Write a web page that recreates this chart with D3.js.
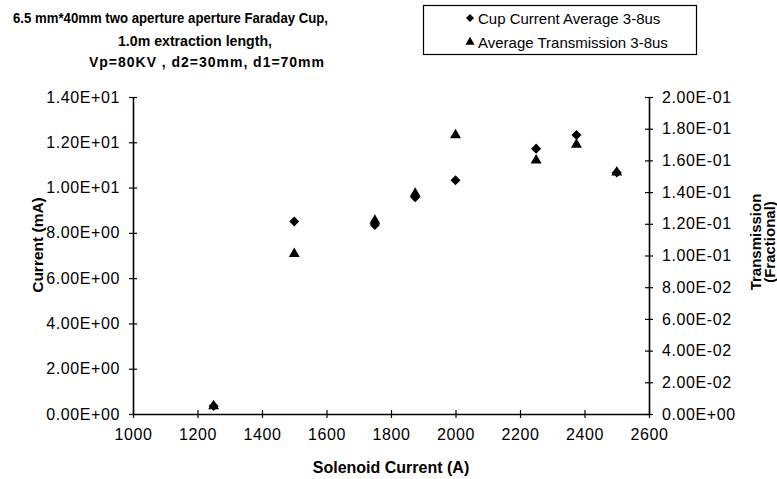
<!DOCTYPE html>
<html>
<head>
<meta charset="utf-8">
<script src="https://cdn.jsdelivr.net/npm/d3@7"></script>
<style>
  html, body { margin: 0; padding: 0; background: #fff; }
  svg { display: block; font-family: "Liberation Sans", Arial, Helvetica, sans-serif; }
</style>
</head>
<body>
<svg id="chart" width="777" height="479"></svg>
<script>
// Solenoid current settings (A)
const solenoid = [1250, 1500, 1750, 1875, 2000, 2250, 2375, 2500];
// Cup current, averaged over 3-8 us (mA)
const cupCurrent = [0.35, 8.5, 8.35, 9.57, 10.32, 11.72, 12.32, 10.67];
// Transmission, averaged over 3-8 us (fraction)
const transmission = [0.005, 0.101, 0.122, 0.139, 0.176, 0.160, 0.170, 0.1525];

const xTicks = [1000, 1200, 1400, 1600, 1800, 2000, 2200, 2400, 2600];
const leftTicks = [0, 2, 4, 6, 8, 10, 12, 14];
const rightTicks = [0, 0.02, 0.04, 0.06, 0.08, 0.10, 0.12, 0.14, 0.16, 0.18, 0.20];

const titleLines = [
  "6.5 mm*40mm two aperture aperture Faraday Cup,",
  "1.0m extraction length,",
  "Vp=80KV , d2=30mm, d1=70mm"
];
const legendLabels = ["Cup Current Average 3-8us", "Average Transmission 3-8us"];

const svg = d3.select("#chart");

const x = d3.scaleLinear().domain([1000, 2600]).range([133, 649]);
const yL = d3.scaleLinear().domain([0, 14]).range([414, 97]);
const yR = d3.scaleLinear().domain([0, 0.2]).range([414, 97]);

// Spreadsheet-style scientific notation: 1.40E+01
function sci(v) {
  const s = v.toExponential(2);
  const [m, e] = s.split("e");
  const sign = e[0] === "-" ? "-" : "+";
  const n = Math.abs(parseInt(e, 10));
  return m + "E" + sign + (n < 10 ? "0" + n : "" + n);
}

// Left axis
const gL = svg.append("g").attr("transform", "translate(133,0)")
  .call(d3.axisLeft(yL).tickValues(leftTicks).tickFormat(sci).tickSizeInner(4).tickSizeOuter(0).tickPadding(9));
// Right axis
const gR = svg.append("g").attr("transform", "translate(649,0)")
  .call(d3.axisRight(yR).tickValues(rightTicks).tickFormat(sci).tickSizeInner(4).tickSizeOuter(0).tickPadding(9));
// Bottom axis
const gB = svg.append("g").attr("transform", "translate(0,414)")
  .call(d3.axisBottom(x).tickValues(xTicks).tickFormat(d3.format("d")).tickSizeInner(4).tickSizeOuter(0).tickPadding(11));

// Ticks cross the axis line on both sides
gL.selectAll(".tick line").attr("x1", 4);
gR.selectAll(".tick line").attr("x1", -4);
gB.selectAll(".tick line").attr("y1", -4);

[gL, gR, gB].forEach(g => {
  g.select(".domain").attr("stroke", "#000").attr("stroke-width", 1.6);
  g.selectAll(".tick line").attr("stroke", "#000").attr("stroke-width", 1.2);
  g.selectAll(".tick text").attr("fill", "#000")
    .style("font-family", "'Liberation Sans', Arial, sans-serif")
    .style("font-size", "16px")
    .style("letter-spacing", "0.6px");
});

// Markers
const diamond = d3.symbol().type(d3.symbolDiamond2).size(64);
const triangle = d3.symbol().type(d3.symbolTriangle).size(52);

svg.append("g").selectAll("path")
  .data(solenoid.map((s, i) => [s, cupCurrent[i]]))
  .join("path")
  .attr("d", diamond)
  .attr("transform", d => `translate(${x(d[0])},${yL(d[1])})`)
  .attr("fill", "#000");

svg.append("g").selectAll("path")
  .data(solenoid.map((s, i) => [s, transmission[i]]))
  .join("path")
  .attr("d", triangle)
  .attr("transform", d => `translate(${x(d[0])},${yR(d[1])})`)
  .attr("fill", "#000");

// Title, three lines
const titleX = [13, 118, 89];
const titleY = [18, 41, 62];
const titleW = [315, 154, 235];
const titleAdjust = ["spacingAndGlyphs", "spacingAndGlyphs", "spacing"];
svg.append("g").selectAll("text")
  .data(titleLines)
  .join("text")
  .attr("x", (d, i) => titleX[i])
  .attr("y", (d, i) => titleY[i])
  .attr("dominant-baseline", "central")
  .attr("textLength", (d, i) => titleW[i])
  .attr("lengthAdjust", (d, i) => titleAdjust[i])
  .style("font-size", "14px")
  .style("font-weight", "bold")
  .text(d => d);

// Axis titles
svg.append("text")
  .attr("transform", "translate(37,245) rotate(-90)")
  .attr("text-anchor", "middle")
  .attr("dominant-baseline", "central")
  .style("font-size", "15.5px").style("font-weight", "bold")
  .text("Current (mA)");

const rt = svg.append("text")
  .attr("transform", "translate(756,242) rotate(-90)")
  .attr("text-anchor", "middle")
  .style("font-size", "15px").style("font-weight", "bold");
rt.append("tspan").attr("x", 0).attr("dy", "0.35em").text("Transmission");
rt.append("tspan").attr("x", 0).attr("dy", "14").text("(Fractional)");

svg.append("text")
  .attr("x", 391).attr("y", 467)
  .attr("text-anchor", "middle")
  .attr("dominant-baseline", "central")
  .style("font-size", "16px").style("font-weight", "bold")
  .text("Solenoid Current (A)");

// Legend
const lg = svg.append("g");
lg.append("rect")
  .attr("x", 423.5).attr("y", 5.5).attr("width", 273).attr("height", 49)
  .attr("fill", "#fff").attr("stroke", "#000").attr("stroke-width", 1.2);
const legendSymbols = [d3.symbol().type(d3.symbolDiamond2).size(42), d3.symbol().type(d3.symbolTriangle).size(36)];
legendLabels.forEach((label, i) => {
  const cy = 18 + i * 24;
  lg.append("path").attr("d", legendSymbols[i]).attr("transform", `translate(470,${cy})`).attr("fill", "#000");
  lg.append("text").attr("x", 478).attr("y", cy)
    .attr("dominant-baseline", "central")
    .style("font-size", "15px")
    .text(label);
});
</script>
</body>
</html>
